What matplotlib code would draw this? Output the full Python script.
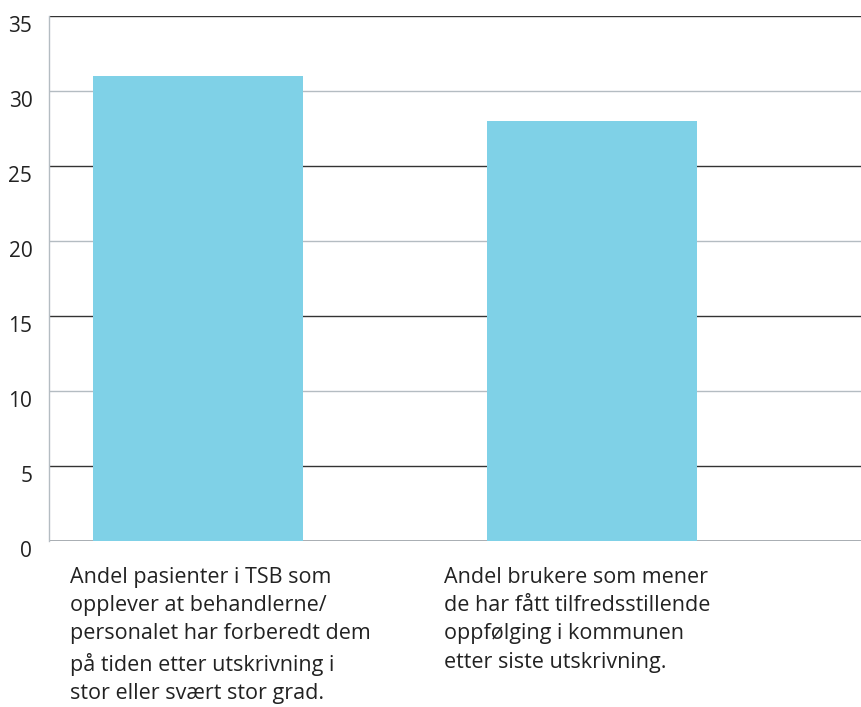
import matplotlib
matplotlib.use("Agg")
import matplotlib.pyplot as plt
import matplotlib.transforms as mtransforms

categories = [
    "Andel pasienter i TSB som\nopplever at behandlerne/\npersonalet har forberedt dem\npå tiden etter utskrivning i\nstor eller svært stor grad.",
    "Andel brukere som mener\nde har fått tilfredsstillende\noppfølging i kommunen\netter siste utskrivning.",
]
values = [31, 28]
yticks = [0, 5, 10, 15, 20, 25, 30, 35]

plt.rcParams['font.family'] = ['Open Sans', 'DejaVu Sans']

fig = plt.figure(figsize=(8.62, 7.07), dpi=100)
ax = fig.add_axes([49/862, 1-541/707, (862-49)/862, (541-16)/707])

x = list(range(len(values)))
ax.bar(x, values, width=0.533, color="#7fd1e7", zorder=3)
ax.set_xlim(-0.378, 1.685)
ax.set_ylim(0, 35)

for t in yticks:
    if t == 0:
        c, lw = "#9aa0a6", 1.2
    elif t % 10 == 5:
        c, lw = "#333333", 1.0
    else:
        c, lw = "#b4bcc2", 1.0
    ax.axhline(t, color=c, lw=lw, zorder=1)

for s in ["top", "right", "bottom"]:
    ax.spines[s].set_visible(False)
ax.spines["left"].set_color("#b4bcc2")
ax.spines["left"].set_linewidth(1.0)

ax.set_yticks(yticks)
ax.set_yticklabels([str(t) for t in yticks], fontsize=15, color="#222222")
ax.tick_params(axis="y", length=0, pad=12)
ax.set_xticks([])
offset = mtransforms.ScaledTranslation(0, -8/100, fig.dpi_scale_trans)
for lbl in ax.get_yticklabels():
    lbl.set_transform(lbl.get_transform() + offset)

label_x = [70, 444]
for lx, lab in zip(label_x, categories):
    fig.text(lx/862, 1-567/707, lab, ha="left", va="top", fontsize=15.5,
             color="#222222", linespacing=1.45)

fig.savefig("out.png", dpi=100)
